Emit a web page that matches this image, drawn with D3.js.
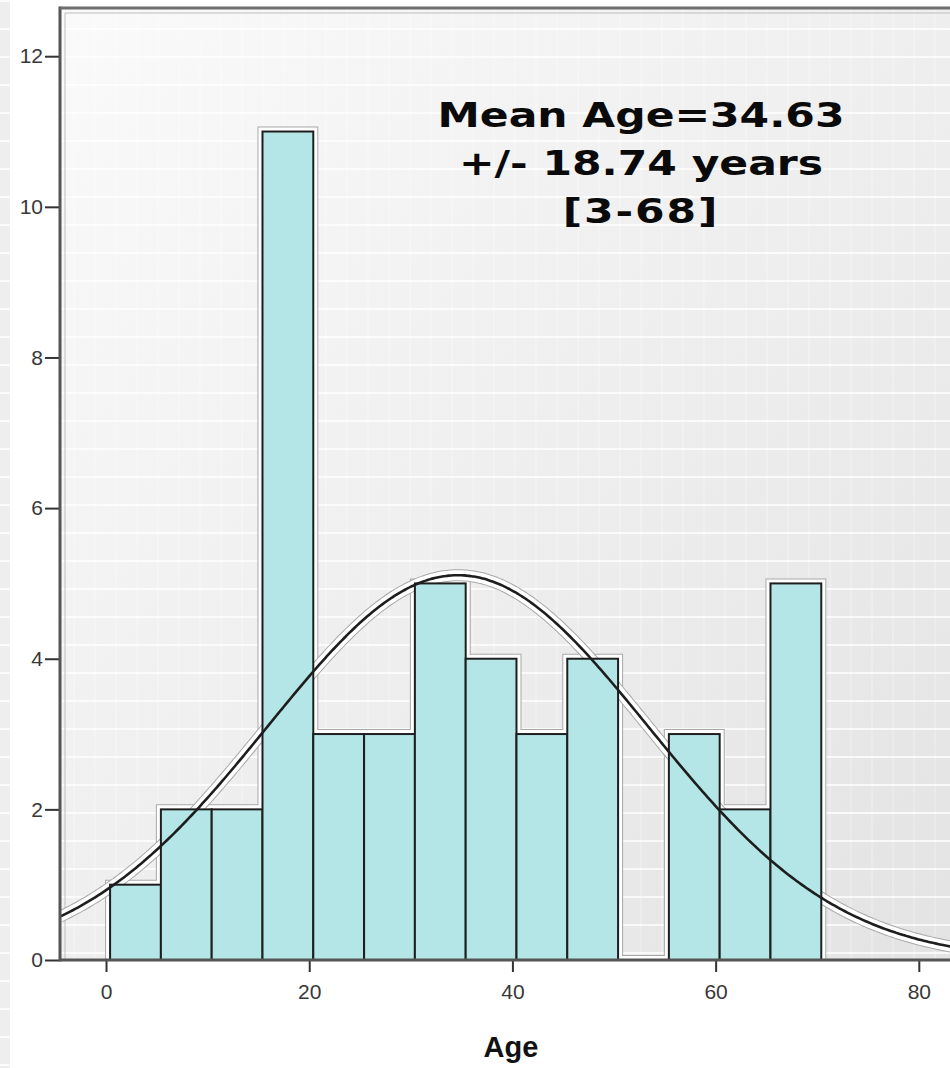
<!DOCTYPE html>
<html>
<head>
<meta charset="utf-8">
<script src="https://cdn.jsdelivr.net/npm/d3@7"></script>
<style>
  body { margin: 0; background: #fff; }
  svg { display: block; }
</style>
</head>
<body>
<script>
// Data
var binStart = 0.4;
var binWidth = 5;
var counts = [1, 2, 2, 11, 3, 3, 5, 4, 3, 4, 0, 3, 2, 5];
var xTicks = [0, 20, 40, 60, 80];
var yTicks = [0, 2, 4, 6, 8, 10, 12];
var meanAge = 34.63;
var sdAge = 18.74;
var noteLines = ["Mean Age=34.63", "+/- 18.74 years", "[3-68]"];

var bar_fill = "#b4e6e7";
var dark_col = "#1e1e1e";
var axis_col = "#555555";

var W = 950, H = 1068;
var plot = { left: 60, top: 8, right: 950, bottom: 960 };

var svg = d3.select("body").append("svg")
	.attr("width", W)
	.attr("height", H);

var defs = svg.append("defs");

// soft grey background, lighter top-left
var grad = defs.append("linearGradient")
	.attr("id", "bg")
	.attr("x1", "0%").attr("y1", "0%")
	.attr("x2", "100%").attr("y2", "100%");
grad.append("stop").attr("offset", "0%").attr("stop-color", "#fafafa");
grad.append("stop").attr("offset", "100%").attr("stop-color", "#e3e3e3");

// faint texture of white lines
var pat = defs.append("pattern")
	.attr("id", "tex")
	.attr("patternUnits", "userSpaceOnUse")
	.attr("width", 21).attr("height", 28);
pat.append("rect").attr("x", 0).attr("y", 0).attr("width", 21).attr("height", 2)
	.attr("fill", "#ffffff").attr("opacity", 0.75);
pat.append("rect").attr("x", 10).attr("y", 0).attr("width", 2).attr("height", 28)
	.attr("fill", "#ffffff").attr("opacity", 0.2);

defs.append("clipPath").attr("id", "clip")
	.append("rect")
	.attr("x", plot.left).attr("y", plot.top)
	.attr("width", plot.right - plot.left).attr("height", plot.bottom - plot.top);

// left strip of the page
svg.append("rect").attr("x", 0).attr("y", 0).attr("width", 10).attr("height", H)
	.attr("fill", "#eeeeee");
svg.append("rect").attr("x", 0).attr("y", 0).attr("width", 10).attr("height", H)
	.attr("fill", "url(#tex)");

// plot background
svg.append("rect")
	.attr("x", plot.left).attr("y", plot.top)
	.attr("width", plot.right - plot.left).attr("height", plot.bottom - plot.top)
	.attr("fill", "url(#bg)");
svg.append("rect")
	.attr("x", plot.left).attr("y", plot.top)
	.attr("width", plot.right - plot.left).attr("height", plot.bottom - plot.top)
	.attr("fill", "url(#tex)");

// inner frame line
svg.append("path")
	.attr("d", "M" + (plot.left + 5) + "," + plot.bottom + "V" + (plot.top + 5) + "H" + plot.right)
	.attr("fill", "none")
	.attr("stroke", "#bdbdbd")
	.attr("stroke-width", 1);

// Scales
var x = d3.scaleLinear()
	.domain([-4.53, 83.07])
	.range([plot.left, plot.right]);

var y = d3.scaleLinear()
	.domain([0, 12.64])
	.range([plot.bottom, plot.top]);

var bins = counts.map(function (c, i) {
	return { x0: binStart + i * binWidth, x1: binStart + (i + 1) * binWidth, n: c };
});

var g = svg.append("g").attr("clip-path", "url(#clip)");

// histogram outline used for the white halo
var outline = d3.path();
outline.moveTo(x(bins[0].x0), y(0));
bins.forEach(function (b) {
	outline.lineTo(x(b.x0), y(b.n));
	outline.lineTo(x(b.x1), y(b.n));
});
outline.lineTo(x(bins[bins.length - 1].x1), y(0));
outline.closePath();

g.append("path").attr("d", outline.toString())
	.attr("fill", "none").attr("stroke", "#a8a8a8").attr("stroke-width", 10)
	.attr("stroke-linejoin", "miter");
g.append("path").attr("d", outline.toString())
	.attr("fill", "none").attr("stroke", "#ffffff").attr("stroke-width", 8)
	.attr("stroke-linejoin", "miter");

// normal curve
var nCases = d3.sum(counts);
var curveData = d3.range(x.domain()[0], x.domain()[1] + 0.5, 0.25).map(function (v) {
	var z = (v - meanAge) / sdAge;
	return [v, nCases * binWidth * Math.exp(-0.5 * z * z) / (sdAge * Math.sqrt(2 * Math.PI))];
});

var line = d3.line()
	.x(function (d) { return x(d[0]); })
	.y(function (d) { return y(d[1]); })
	.curve(d3.curveBasis);

g.append("path").datum(curveData).attr("d", line)
	.attr("fill", "none").attr("stroke", "#a8a8a8").attr("stroke-width", 12);
g.append("path").datum(curveData).attr("d", line)
	.attr("fill", "none").attr("stroke", "#ffffff").attr("stroke-width", 10);

// bars
g.selectAll("rect.bar")
	.data(bins.filter(function (b) { return b.n > 0; }))
	.enter().append("rect")
	.attr("class", "bar")
	.attr("x", function (d) { return x(d.x0); })
	.attr("y", function (d) { return y(d.n); })
	.attr("width", function (d) { return x(d.x1) - x(d.x0); })
	.attr("height", function (d) { return y(0) - y(d.n); })
	.attr("fill", bar_fill)
	.attr("stroke", dark_col)
	.attr("stroke-width", 2);

g.append("path").datum(curveData).attr("d", line)
	.attr("fill", "none").attr("stroke", dark_col).attr("stroke-width", 2.6);

// Axes
var yAxis = svg.append("g")
	.attr("transform", "translate(" + plot.left + ",0)")
	.call(d3.axisLeft(y).tickValues(yTicks).tickSize(15).tickPadding(2).tickFormat(d3.format("d")));

var xAxis = svg.append("g")
	.attr("transform", "translate(0," + plot.bottom + ")")
	.call(d3.axisBottom(x).tickValues(xTicks).tickSize(12).tickPadding(12).tickFormat(d3.format("d")));

[xAxis, yAxis].forEach(function (a) {
	a.select(".domain").remove();
	a.selectAll(".tick line").attr("stroke", "#333").attr("stroke-width", 2);
	a.selectAll(".tick text")
		.attr("fill", "#383838")
		.style("font", "21px 'Liberation Sans', Arial, sans-serif");
});

// axis lines
svg.append("line")
	.attr("x1", plot.left).attr("x2", plot.left)
	.attr("y1", plot.top - 1.5).attr("y2", plot.bottom + 1.5)
	.attr("stroke", axis_col).attr("stroke-width", 3);
svg.append("line")
	.attr("x1", plot.left).attr("x2", plot.right)
	.attr("y1", plot.bottom).attr("y2", plot.bottom)
	.attr("stroke", axis_col).attr("stroke-width", 3);
svg.append("line")
	.attr("x1", plot.left).attr("x2", plot.right)
	.attr("y1", plot.top).attr("y2", plot.top)
	.attr("stroke", "#6e6e6e").attr("stroke-width", 3);

// x title
svg.append("text")
	.text("Age")
	.attr("x", 511)
	.attr("y", 1057)
	.attr("text-anchor", "middle")
	.style("font", "bold 29px 'Liberation Sans', Arial, sans-serif")
	.attr("fill", "#111");

// annotation
var note = svg.append("g")
	.attr("transform", "translate(641,0) scale(1.25,1)");
note.selectAll("text")
	.data(noteLines)
	.enter().append("text")
	.text(function (d) { return d; })
	.attr("x", 0)
	.attr("y", function (d, i) { return 127 + i * 48; })
	.attr("text-anchor", "middle")
	.style("font", "bold 34px 'DejaVu Sans', Verdana, sans-serif")
	.style("letter-spacing", function (d, i) { return i === 2 ? "1.5px" : "0px"; })
	.attr("fill", "#0a0a0a");
</script>
</body>
</html>
